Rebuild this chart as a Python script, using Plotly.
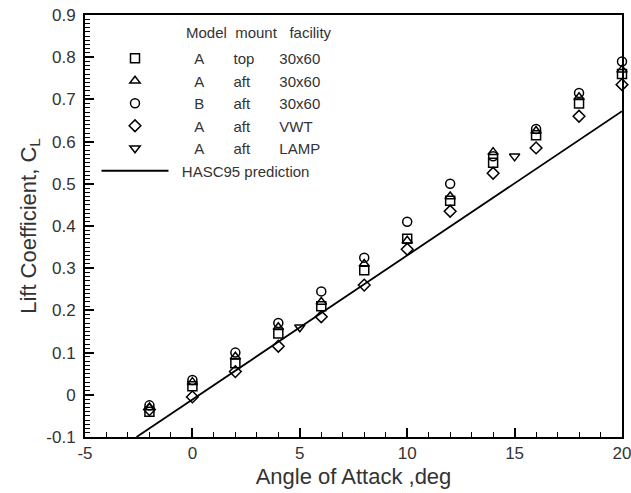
import plotly.graph_objects as go

# ---- data ----
aoa = [-2, 0, 2, 4, 6, 8, 10, 12, 14, 16, 18, 20]
cl_A_top_30x60 = [-0.04, 0.02, 0.075, 0.145, 0.21, 0.295, 0.37, 0.46, 0.55, 0.615, 0.69, 0.76]
cl_A_aft_30x60 = [-0.03, 0.03, 0.09, 0.16, 0.22, 0.31, 0.365, 0.47, 0.575, 0.625, 0.705, 0.77]
cl_B_aft_30x60 = [-0.025, 0.035, 0.10, 0.17, 0.245, 0.325, 0.41, 0.50, 0.565, 0.63, 0.715, 0.79]
cl_A_aft_VWT = [-0.035, -0.005, 0.055, 0.115, 0.185, 0.26, 0.345, 0.435, 0.525, 0.585, 0.66, 0.735]
aoa_lamp = [5, 15]
cl_A_aft_LAMP = [0.16, 0.565]
aoa_hasc = [-2.6, 20]
cl_hasc = [-0.1, 0.672]

models = ["A", "A", "B", "A", "A"]
mounts = ["top", "aft", "aft", "aft", "aft"]
facilities = ["30x60", "30x60", "30x60", "VWT", "LAMP"]
symbols = ["square-open", "triangle-up-open", "circle-open", "diamond-open", "triangle-down-open"]
x_ticks = [-5, 0, 5, 10, 15, 20]
x_tick_labels = ["-5", "0", "5", "10", "15", "20"]
y_ticks = [-0.1, 0, 0.1, 0.2, 0.3, 0.4, 0.5, 0.6, 0.7, 0.8, 0.9]
y_tick_labels = ["-0.1", "0", "0.1", "0.2", "0.3", "0.4", "0.5", "0.6", "0.7", "0.8", "0.9"]

FONT = "Liberation Sans, Arial, Helvetica, sans-serif"
TXT = "#333333"
NB = "\u00a0"

series_x = [aoa, aoa, aoa, aoa, aoa_lamp]
series_y = [cl_A_top_30x60, cl_A_aft_30x60, cl_B_aft_30x60, cl_A_aft_VWT, cl_A_aft_LAMP]

fig = go.Figure()

fig.add_trace(go.Scatter(
    x=aoa_hasc, y=cl_hasc, mode="lines",
    line=dict(color="black", width=1.8),
    name=NB * 2 + "HASC95 prediction",
    legendgroup="g6", legendrank=6,
))

for i in range(5):
    gap2 = 7 if mounts[i] == "aft" else 6
    label = NB * 5 + models[i] + NB * 7 + mounts[i] + NB * gap2 + facilities[i]
    fig.add_trace(go.Scatter(
        x=series_x[i], y=series_y[i], mode="markers",
        marker=dict(symbol=symbols[i], size=9, color="black",
                    line=dict(color="black", width=1.5)),
        name=label, legendgroup="g%d" % i, legendrank=i + 1,
        cliponaxis=False,
    ))

L, R, T, B = 85, 9, 15, 56
W, H = 631, 493
pw, ph = W - L - R, H - T - B

def px_x(p):
    return (p - L) / pw

def px_y(p):
    return 1 - (p - T) / ph

fig.add_annotation(
    xref="paper", yref="paper", x=px_x(184), y=px_y(32),
    xanchor="left", yanchor="middle", showarrow=False,
    text="Model" + NB * 2 + "mount" + NB * 3 + "facility",
    font=dict(family=FONT, size=15, color=TXT),
)

fig.update_xaxes(
    range=[-5, 20], tickvals=x_ticks, ticktext=x_tick_labels,
    showline=True, linecolor="black", linewidth=2, mirror=True,
    showgrid=False, zeroline=False,
    ticks="inside", tickcolor="black", tickwidth=2, ticklen=9,
    minor=dict(dtick=1, ticks="inside", ticklen=5, tickcolor="black", tickwidth=1),
    tickfont=dict(family=FONT, size=17, color=TXT),
    ticklabeloverflow="allow",
    title=dict(text="Angle of Attack ,deg", font=dict(family=FONT, size=22, color=TXT), standoff=6),
)
fig.update_yaxes(
    range=[-0.1, 0.9], tickvals=y_ticks, ticktext=y_tick_labels,
    showline=True, linecolor="black", linewidth=2, mirror=True,
    showgrid=False, zeroline=False,
    ticks="inside", tickcolor="black", tickwidth=2, ticklen=9,
    minor=dict(dtick=0.01, ticks="inside", ticklen=5, tickcolor="black", tickwidth=1),
    tickfont=dict(family=FONT, size=17, color=TXT),
    ticklabelstandoff=4,
    title=dict(text="Lift Coefficient, C<sub>L</sub>", font=dict(family=FONT, size=22, color=TXT), standoff=4),
)

fig.update_layout(
    width=W, height=H,
    margin=dict(l=L, r=R, t=T, b=B, autoexpand=False),
    paper_bgcolor="white", plot_bgcolor="white",
    showlegend=True,
    legend=dict(
        x=px_x(96.5), y=px_y(42), xanchor="left", yanchor="top",
        bgcolor="rgba(0,0,0,0)", borderwidth=0,
        itemwidth=67, tracegroupgap=0, traceorder="grouped",
        font=dict(family=FONT, size=15, color=TXT),
    ),
)

fig.write_html("out.html")
